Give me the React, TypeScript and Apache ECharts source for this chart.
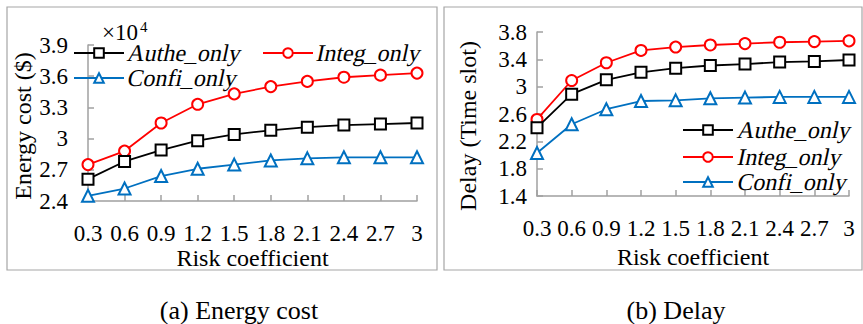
import React, { useEffect, useRef } from "react";
import * as echarts from "echarts";

const categories = ["0.3", "0.6", "0.9", "1.2", "1.5", "1.8", "2.1", "2.4", "2.7", "3"];
const seriesNames = ["Authe_only", "Integ_only", "Confi_only"];

// (a) Energy cost, x10^4 $
const energyAuthe = [2.61, 2.78, 2.89, 2.98, 3.04, 3.08, 3.11, 3.13, 3.14, 3.15];
const energyInteg = [2.75, 2.88, 3.15, 3.33, 3.43, 3.5, 3.55, 3.59, 3.61, 3.63];
const energyConfi = [2.45, 2.52, 2.64, 2.71, 2.75, 2.79, 2.81, 2.82, 2.82, 2.82];

// (b) Delay, time slot
const delayAuthe = [2.4, 2.89, 3.1, 3.21, 3.27, 3.31, 3.33, 3.36, 3.37, 3.39];
const delayInteg = [2.52, 3.09, 3.35, 3.53, 3.58, 3.61, 3.63, 3.65, 3.66, 3.67];
const delayConfi = [2.03, 2.45, 2.67, 2.79, 2.8, 2.83, 2.84, 2.85, 2.85, 2.85];

const FONT = '"Liberation Serif", "Times New Roman", serif';
const COLORS = ["#000000", "#FF0000", "#0070C0"];
const SYMBOLS = ["emptyRect", "emptyCircle", "emptyTriangle"];
const AXIS_GRAY = "#A0A0A0";

function makeSeries(data: number[], idx: number, gridIdx: number) {
  return {
    type: "line",
    name: seriesNames[idx],
    xAxisIndex: gridIdx,
    yAxisIndex: gridIdx,
    data,
    symbol: SYMBOLS[idx],
    symbolSize: idx === 2 ? 12 : 11,
    lineStyle: { color: COLORS[idx], width: 1.8 },
    itemStyle: { color: COLORS[idx], borderColor: COLORS[idx], borderWidth: 1.8 },
    z: 3 - idx,
  };
}

// legend icon only; its (slanted) label is drawn as a text element next to it
function legendIcon(name: string, left: number, centerY: number) {
  return {
    data: [name],
    left,
    top: centerY - 6,
    orient: "horizontal",
    itemWidth: 50,
    itemHeight: 12,
    itemGap: 0,
    padding: 0,
    selectedMode: false,
    formatter: () => "",
    textStyle: { fontSize: 1 },
  };
}

export default function App() {
  const ref = useRef<HTMLDivElement>(null);
  useEffect(() => {
    document.body.style.margin = "0";
    const chart = echarts.init(ref.current!, null, { renderer: "svg" });
    const xAxisBase = {
      type: "category",
      data: categories,
      boundaryGap: false,
      axisLine: { lineStyle: { color: AXIS_GRAY, width: 1.5 } },
      axisTick: { inside: true, length: 6, alignWithLabel: true, lineStyle: { color: AXIS_GRAY, width: 1.5 } },
      axisLabel: { fontFamily: FONT, fontSize: 23, color: "#000", margin: 21, interval: 0 },
      name: "Risk coefficient",
      nameLocation: "middle",
      nameGap: 42,
      nameTextStyle: { fontFamily: FONT, fontSize: 24, color: "#000" },
      splitLine: { show: false },
    };
    const option = {
      animation: false,
      backgroundColor: "#fff",
      textStyle: { fontFamily: FONT },
      grid: [
        { left: 88, top: 45, width: 329, height: 156, outerBoundsMode: "none" },
        { left: 537, top: 32, width: 312, height: 164, outerBoundsMode: "none" },
      ],
      xAxis: [
        { ...xAxisBase, gridIndex: 0 },
        { ...xAxisBase, gridIndex: 1 },
      ],
      yAxis: [
        {
          type: "value",
          gridIndex: 0,
          min: 2.4,
          max: 3.9,
          interval: 0.3,
          axisLine: { show: true, lineStyle: { color: AXIS_GRAY, width: 1.5 } },
          axisTick: { show: true, inside: true, length: 6, lineStyle: { color: AXIS_GRAY, width: 1.5 } },
          axisLabel: { fontFamily: FONT, fontSize: 23, color: "#000", margin: 20 },
          splitLine: { show: false },
          name: "Energy cost ($)",
          nameLocation: "middle",
          nameGap: 44,
          nameTextStyle: { fontFamily: FONT, fontSize: 24, color: "#000", padding: [0, 6, 0, 0] },
        },
        {
          type: "value",
          gridIndex: 1,
          min: 1.4,
          max: 3.8,
          interval: 0.4,
          axisLine: { show: true, lineStyle: { color: AXIS_GRAY, width: 1.5 } },
          axisTick: { show: true, inside: true, length: 6, lineStyle: { color: AXIS_GRAY, width: 1.5 } },
          axisLabel: { fontFamily: FONT, fontSize: 23, color: "#000", margin: 10 },
          splitLine: { show: false },
          name: "Delay (Time slot)",
          nameLocation: "middle",
          nameGap: 57,
          nameTextStyle: { fontFamily: FONT, fontSize: 24, color: "#000", padding: [0, 24, 0, 0] },
        },
      ],
      legend: [
        legendIcon("Authe_only", 73, 53),
        legendIcon("Integ_only", 262, 53),
        legendIcon("Confi_only", 73, 78),
        legendIcon("Authe_only", 682, 130),
        legendIcon("Integ_only", 682, 157),
        legendIcon("Confi_only", 682, 182),
      ],
      series: [
        makeSeries(energyAuthe, 0, 0),
        makeSeries(energyInteg, 1, 0),
        makeSeries(energyConfi, 2, 0),
        makeSeries(delayAuthe, 0, 1),
        makeSeries(delayInteg, 1, 1),
        makeSeries(delayConfi, 2, 1),
      ],
      graphic: [
        {
          type: "rect",
          shape: { x: 7, y: 7, width: 430, height: 263 },
          style: { fill: "none", stroke: "#A6A6A6", lineWidth: 1.2 },
          z: -1,
        },
        {
          type: "rect",
          shape: { x: 444, y: 7, width: 418, height: 263 },
          style: { fill: "none", stroke: "#A6A6A6", lineWidth: 1.2 },
          z: -1,
        },
        {
          type: "text",
          x: 102,
          y: 32,
          style: { text: "×10", font: `23px ${FONT}`, fill: "#000", verticalAlign: "middle" },
        },
        {
          type: "text",
          x: 140,
          y: 27,
          style: { text: "4", font: `15px ${FONT}`, fill: "#000", verticalAlign: "middle" },
        },
        {
          type: "text",
          x: 239,
          y: 310,
          style: { text: "(a) Energy cost", font: `26px ${FONT}`, fill: "#000", align: "center", verticalAlign: "middle" },
        },
        {
          type: "text",
          x: 676,
          y: 310,
          style: { text: "(b) Delay", font: `26px ${FONT}`, fill: "#000", align: "center", verticalAlign: "middle" },
        },
      ],
    };
    chart.setOption(option as any);

    // slanted serif legend labels (no italic serif face is installed)
    const labels: [string, number, number][] = [
      ["Authe_only", 128, 53],
      ["Integ_only", 317, 53],
      ["Confi_only", 128, 78],
      ["Authe_only", 738, 130],
      ["Integ_only", 738, 157],
      ["Confi_only", 738, 182],
    ];
    const zr = chart.getZr();
    const TextCtor = (echarts.graphic as any).Text;
    labels.forEach(([name, x, y]) => {
      const t = new TextCtor({
        x,
        y,
        skewX: -0.21,
        z: 100,
        style: {
          text: name,
          fontFamily: "Liberation Serif",
          fontSize: 24,
          fill: "#000",
          verticalAlign: "middle",
        },
      });
      zr.add(t);
    });
    return () => chart.dispose();
  }, []);
  return <div ref={ref} style={{ width: 863, height: 324 }} />;
}
